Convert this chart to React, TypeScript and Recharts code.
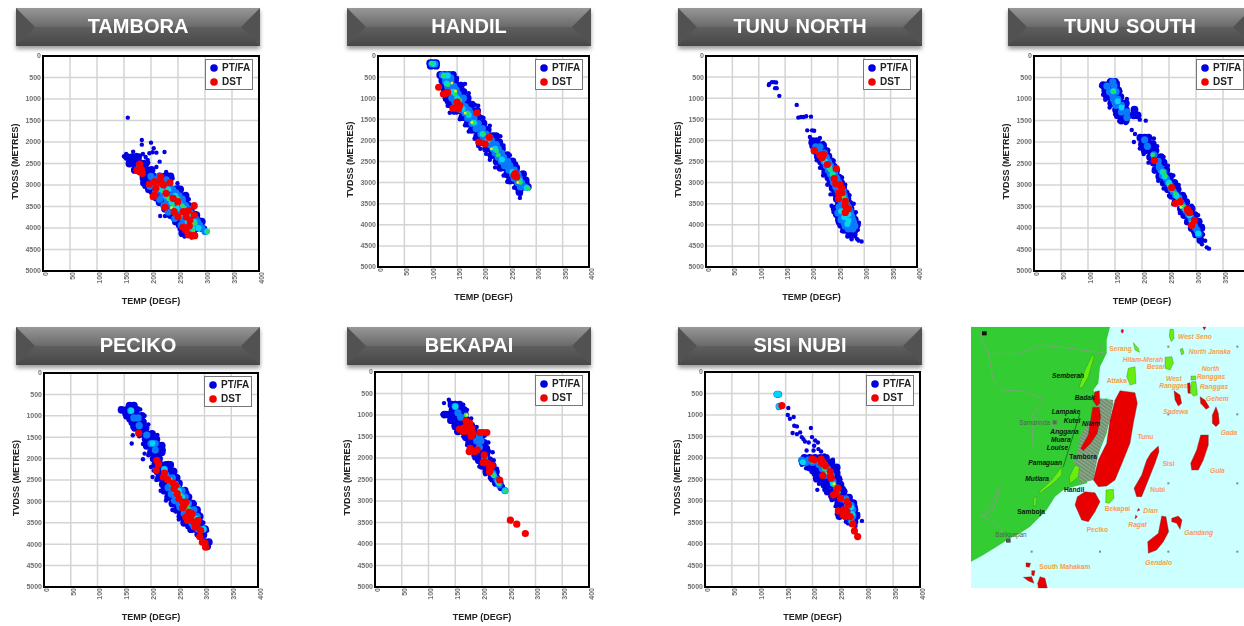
import {
  ScatterChart,
  Scatter,
  XAxis,
  YAxis,
  CartesianGrid,
  ReferenceArea,
} from "recharts";

// rows are [depth, temp, temp, ...]; pairs are [temp, depth]
type Row = number[];
type Pair = [number, number];

const tempTicks = [0, 50, 100, 150, 200, 250, 300, 350, 400];
const depthTicks = [0, 500, 1000, 1500, 2000, 2500, 3000, 3500, 4000, 4500, 5000];

const tamboraSparse: Pair[] = [[157,1434],[183,1953],[183,2062],[200,2015],[205,2147],[210,2248],[225,2232],[197,2263],[154,2279],[167,2225],[173,2302],[185,2279],[151,2341],[160,2418],[194,2418],[216,2457],[228,2698],[249,2961],[270,3333],[217,3720],[226,3720],[258,4147],[203,2240],[190,2350],[178,2400],[165,2500],[150,2330],[158,2380],[170,2570],[176,2700],[183,2860],[188,3040],[200,3180],[208,3330],[218,3450],[230,3620],[240,3780],[250,3950],[262,4200],[275,4220],[300,4000],[290,3800],[282,3650],[272,3450],[262,3250],[250,3050],[240,2850],[230,2750],[210,2580],[195,2480],[180,2320]];
const tamboraBlue: Row[] = [[2350,156,166,176],[2500,160,171,181,190],[2650,170,179,191,201],[2800,186,196,204,216,226,236],[2950,187,194,206,214,226,234],[3100,196,206,214,226,236,245,254],[3250,206,214,226,234,246,254,264],[3400,216,226,234,246,256,264],[3550,226,234,246,256,264,274],[3700,236,246,254,266,276,284],[3850,246,254,266,276,284,294],[4000,256,266,274,284,294],[4120,258,268,278]];
const tamboraAzure: Row[] = [[2600,178],[2800,200,215],[2880,208,228],[2950,205,222],[3030,198,214,232],[3100,212,228,240],[3180,208,222,246],[3250,222,238,252],[3330,216,230,258],[3400,230,245,258],[3480,224,238,264],[3550,240,255,268],[3630,232,248,262,272],[3700,252,265,276],[3780,244,258,282],[3850,262,275,286],[3930,256,268,290],[4000,270,282,294],[4080,300,268]];
const tamboraCyan: Row[] = [[3100,218,232],[3250,228,245],[3400,238,252],[3550,248,262],[3700,258,270],[3850,268,280],[4000,276,288],[4080,304]];
const tamboraGreen: Row[] = [[3150,222],[3320,232,250],[3480,240,258],[3620,262],[3750,268],[3900,275,282],[4060,278],[4080,305]];
const tamboraYellow: Row[] = [[3530,238],[3450,250],[3680,258]];
const tamboraRed: Pair[] = [[179,2512],[174,2651],[179,2690],[182,2636],[184,2729],[197,2977],[207,2922],[218,2806],[219,2946],[223,3000],[235,2946],[209,3077],[207,3233],[204,3271],[228,3194],[241,3310],[250,3388],[226,3519],[243,3620],[250,3736],[260,3620],[269,3597],[280,3481],[280,3698],[265,3736],[272,3814],[259,3984],[264,4046],[271,3953],[269,4163],[281,4178],[277,4178]];

const handilSparse: Pair[] = [[157,660],[165,660],[181,1157],[184,1157],[197,1450],[136,1346],[269,3362],[194,2197],[131,1094],[175,1130],[270,3280],[120,520],[121,640],[123,800],[127,1020],[132,1180],[143,1340],[155,1500],[165,1640],[172,1790],[183,1960],[190,2130],[205,2320],[212,2460],[222,2640],[238,2830],[245,2980],[258,3120],[283,3000],[272,2780],[262,2560],[250,2350],[238,2120],[232,1900],[212,1650],[200,1470],[190,1180],[172,880],[158,760],[150,520]];
const handilBlue: Row[] = [[170,99,104,110],[230,100,110],[450,118,126,134,142],[580,122,130,138,146],[700,125,133,141,149,157],[850,130,138,146,154,162],[1000,130,138,146,154,162,170],[1150,138,148,158,168,178],[1300,148,158,168,178,188],[1450,160,170,180,190],[1600,170,180,190,200],[1750,178,188,198,208],[1900,188,198,208,218,224],[2050,192,202,212,222,230],[2200,205,215,225,235],[2350,215,225,235,245],[2500,225,235,245,255],[2650,232,242,252,262],[2800,245,255,265,275],[2950,250,260,270,280],[3100,264,274,284],[3220,268]];
const handilAzure: Row[] = [[190,102,108],[450,122,132],[520,128,138],[600,128,138],[720,132,144],[800,135,148],[900,140,152],[1000,140,152,162],[1100,146,158],[1200,150,165],[1280,158,172],[1350,165,175],[1470,170,182],[1600,178,190],[1720,186,198],[1850,195,205],[1930,200,212],[2000,205,215],[2100,212,224],[2200,218,228],[2300,222,234],[2400,228,238],[2500,234,246],[2600,240,250],[2700,248,258],[2800,255,265],[2900,258,268],[3000,265,272],[3100,278,270]];
const handilCyan: Row[] = [[190,105],[470,125,132],[650,130],[850,142],[1000,150],[1120,152],[1250,160],[1400,172],[1580,182],[1850,198],[2000,208],[2200,222],[2450,235],[2750,255],[2950,268],[3120,282]];
const handilGreen: Row[] = [[170,101],[460,125],[680,133],[900,146],[1050,155],[1350,170],[1580,180],[1850,200],[2250,225],[2350,228],[2850,262],[3000,270],[3140,285]];
const handilYellow: Row[] = [[830,147],[640,140],[1350,165],[1570,178],[2200,215],[3000,265]];
const handilRed: Pair[] = [[115,740],[124,900],[129,885],[132,860],[150,1095],[155,1173],[142,1236],[148,1236],[153,1252],[188,1346],[211,1929],[192,2039],[203,2079],[260,2787],[263,2866],[258,2827]];

const tunuNorthSparse: Pair[] = [[120,660],[119,690],[125,620],[129,620],[133,627],[131,762],[134,762],[139,944],[172,1159],[175,1460],[180,1444],[185,1444],[190,1429],[199,1437],[192,1762],[201,1762],[205,1770],[197,1920],[216,1944],[234,2357],[286,4333],[289,4373],[295,4397],[276,4341],[238,3548],[198,2060],[204,2280],[210,2470],[216,2650],[222,2830],[230,3050],[236,3280],[240,3580],[242,3700],[250,3950],[258,4150],[268,4280],[288,4120],[290,3950],[284,3700],[280,3500],[272,3300],[264,3050],[258,2880],[250,2700],[242,2480],[232,2230],[222,2060]];
const tunuNorthBlue: Row[] = [[2020,202,210],[2120,203,212,222],[2250,208,218,228],[2380,212,222,232],[2500,218,228,238],[2620,222,232,242],[2750,226,236,246],[2880,232,242,252],[3000,236,246,256],[3130,240,250,260],[3250,245,255,265],[3380,248,258,268],[3500,252,262,272],[3620,244,254,264,274],[3750,248,258,268,278],[3880,252,262,272,282],[4000,256,266,276,286],[4120,262,272,282],[4230,272,280]];
const tunuNorthAzure: Row[] = [[2150,208,216],[2300,216,224],[2400,220,228],[2500,224,232],[2600,228,236],[2700,232,240],[2800,236,244],[2900,240,248],[3000,242,252],[3100,246,255],[3200,250,260],[3300,255,262],[3400,254,264],[3500,258,266],[3580,252,262,270],[3650,255,265,272],[3720,250,260,274],[3800,258,268,276],[3880,256,266,278],[3950,262,272,280],[4030,264,274,282],[4100,270,278]];
const tunuNorthCyan: Row[] = [[2500,226],[2650,234],[2800,240],[3000,246],[3200,255],[3400,260],[3600,264],[3680,256,268],[3750,270],[3820,262],[3900,270],[3980,268]];
const tunuNorthGreen: Row[] = [[2700,236],[2820,240],[3150,254],[3350,262],[3450,266]];
const tunuNorthYellow: Row[] = [[3300,258]];
const tunuNorthRed: Pair[] = [[205,2238],[216,2349],[223,2333],[220,2413],[230,2571],[247,2667],[243,2905],[246,3024],[254,3048],[257,3127],[251,3246],[257,3246],[251,3381],[264,3444],[264,3548],[270,3627],[264,3706]];

const tunuSouthSparse: Pair[] = [[181,1720],[187,1814],[185,2000],[207,1504],[317,4295],[320,4450],[324,4480],[311,4380],[196,1480],[170,1560],[124,690],[128,900],[132,1020],[140,1200],[150,1350],[158,1520],[196,2150],[203,2280],[212,2480],[222,2680],[230,2900],[240,3080],[250,3250],[258,3450],[270,3650],[282,3880],[295,4100],[313,4150],[312,3950],[304,3700],[292,3480],[280,3280],[268,3000],[258,2780],[248,2550],[240,2350],[228,2100],[222,1920],[172,1000],[160,820],[155,620]];
const tunuSouthBlue: Row[] = [[600,142,150],[680,128,136,146,152],[800,132,140,150,156],[950,135,143,152,160],[1100,143,152,162,170],[1250,152,160,170,186],[1380,155,165,175,185,192],[1500,162,170],[1900,197,205,212],[2050,200,210,220],[2200,205,215,225],[2350,215,225,235],[2480,222,232,240],[2650,225,235,245],[2800,232,242,252],[2950,240,250,260],[3100,248,258,266],[3250,255,265,275],[3400,262,272,282],[3550,272,282,292],[3700,278,288,298],[3850,285,295,305],[4000,292,302,310],[4150,300,308],[4280,308]];
const tunuSouthAzure: Row[] = [[600,146],[700,135,148],[830,140,152],[920,146],[1000,147,155],[1080,150],[1150,152,162],[1300,162,172],[1430,172],[1950,205],[2100,210],[2300,222],[2450,230],[2580,232],[2650,235],[2700,240],[2780,238],[2850,245],[2930,248],[3000,252],[3080,254],[3150,258],[3230,262],[3300,268],[3380,270],[3450,274],[3530,278],[3600,282],[3680,286],[3750,290],[3830,292],[3900,296],[3980,298],[4050,302],[4150,305]];
const tunuSouthCyan: Row[] = [[820,147],[1050,155],[1200,162],[2700,238],[2800,242],[2950,250],[3100,256],[3250,264],[3400,272],[3550,280],[3700,288],[3850,293],[4130,304]];
const tunuSouthGreen: Row[] = [[820,147],[2300,220],[2700,240],[2780,243],[3000,250],[3200,262],[3350,268],[3500,277]];
const tunuSouthYellow: Row[] = [[3450,268],[3520,272]];
const tunuSouthRed: Pair[] = [[223,2426],[255,3062],[262,3426],[271,3388],[284,3566],[285,3597],[288,3643],[297,3822],[292,3938]];

const pecikoSparse: Pair[] = [[166,1453],[164,1648],[185,2015],[203,2430],[188,1883],[180,850],[200,2195],[234,2180],[297,3660],[143,830],[150,960],[158,1100],[165,1260],[178,1480],[185,1660],[195,1920],[205,2280],[210,2500],[218,2750],[228,2980],[240,3200],[252,3420],[268,3600],[285,3780],[305,3680],[298,3500],[290,3280],[282,3060],[268,2800],[255,2550],[243,2300],[232,2100],[224,1800],[212,1450],[195,1200],[188,1000],[176,830]];
const pecikoBlue: Row[] = [[760,160,168],[860,145,155,165,172],[1000,155,165,175,183],[1150,165,175,185],[1280,170,180,190],[1420,182,192,202],[1550,190,200,210],[1700,192,202,212,220],[1850,200,210,220],[2000,205,215],[2150,208,218,228,236],[2300,212,222,232,242],[2450,215,225,235,248],[2600,222,232,242,252],[2750,225,235,245,255,263],[2900,232,242,252,262,270],[3050,240,250,260,270,278],[3200,248,258,268,278,286],[3350,255,265,275,285,291],[3500,262,272,282,292],[3650,275,285,295,301],[3780,290,298],[3950,300,308],[4050,305]];
const pecikoAzure: Row[] = [[880,162],[1050,168,176],[1230,178],[1450,192],[1650,200,208],[1800,208],[2250,225],[2380,228],[2450,232,240],[2600,236,246],[2680,232,250],[2750,240,250,258],[2830,238,254],[2900,246,256,264],[2980,244,258],[3050,252,262,270],[3130,254,268],[3200,262,272,280],[3280,262,276],[3350,270,280,286],[3430,272,284],[3500,276,286],[3580,280],[3650,288,298]];
const pecikoCyan: Row[] = [[880,163],[1640,203],[2250,225],[2500,235],[2600,240,246],[2750,245,252],[2900,250,258],[3050,258,268],[3200,270],[3400,285],[3650,298]];
const pecikoGreen: Row[] = [[2550,240],[2700,246],[2850,255],[3000,258],[3150,268],[3450,280]];
const pecikoYellow: Row[] = [[2950,255]];
const pecikoRed: Pair[] = [[177,1406],[211,2039],[214,2133],[210,2273],[225,2336],[223,2430],[231,2492],[241,2570],[243,2703],[249,2820],[252,2937],[259,3016],[266,3016],[259,3148],[271,3250],[265,3367],[274,3367],[268,3445],[280,3484],[288,3445],[283,3601],[293,3680],[291,3820],[296,3953],[301,3977],[302,4070],[277,3289],[286,3562],[262,3094],[246,2625]];

const bekapaiSparse: Pair[] = [[138,645],[186,2006],[220,1866],[171,1540],[129,723],[140,708],[157,723],[127,972],[243,2760],[133,950],[126,990],[150,1180],[148,1300],[165,1500],[172,1700],[184,1950],[195,2200],[206,2380],[218,2520],[238,2720],[230,2450],[228,2250],[222,2050],[214,1850],[212,1640],[205,1480],[190,1280],[180,1080],[172,880],[165,760]];
const bekapaiBlue: Row[] = [[760,143,150,158],[880,145,152,160,166],[990,130,138,148,158,168],[1120,142,152,162,172],[1250,150,160,170,180],[1380,155,165,175,185],[1520,170,180,190,198],[1650,176,186,196,204],[1780,180,190,200,208],[1920,188,198,208],[2050,194,204,214],[2180,200,210,220],[2320,208,218,226],[2450,218,226],[2580,226,233],[2680,236]];
const bekapaiAzure: Row[] = [[800,150],[950,155],[1050,160],[1600,190,198],[1500,195],[1750,195],[2000,205],[2200,215],[2350,220],[2500,228],[2620,232],[2760,243]];
const bekapaiCyan: Row[] = [[800,150],[2050,205],[2400,222],[2550,230],[2760,243]];
const bekapaiGreen: Row[] = [[1000,170],[2100,208],[2400,222],[2600,232],[2760,243]];
const bekapaiYellow: Row[] = [[1000,172]];
const bekapaiRed: Pair[] = [[166,1306],[158,1330],[170,1135],[177,1190],[180,1306],[174,1384],[183,1423],[165,1384],[180,1500],[176,1252],[170,1268],[196,1408],[202,1408],[209,1408],[191,1812],[178,1773],[176,1851],[186,1851],[204,1928],[205,2084],[202,2107],[211,2123],[214,2200],[214,2317],[233,2512],[219,2177],[253,3445],[265,3538],[281,3756]];

const sisiNubiSparse: Pair[] = [[137,838],[155,838],[154,1000],[165,1048],[158,1087],[166,1250],[171,1265],[197,1304],[163,1420],[171,1444],[177,1405],[180,1514],[183,1560],[186,1615],[193,1638],[199,1514],[205,1592],[210,1638],[203,1716],[189,1824],[202,1824],[211,1793],[216,1848],[209,2741],[232,2158],[239,2337],[292,3463],[281,3385],[280,3579],[180,2158],[227,2756],[233,2896],[248,3362],[178,2060],[180,2100],[188,2240],[198,2320],[205,2470],[212,2600],[222,2740],[236,2980],[243,3120],[245,3300],[262,3480],[272,3560],[285,3300],[280,3120],[268,2900],[258,2700],[252,2500],[243,2250],[238,2040],[222,1940]];
const sisiNubiBlue: Row[] = [[2000,185,195,205,215,225],[2100,182,192,202,212,225,235],[2220,195,205,215,225,235,245],[2350,205,215,225,235,245],[2480,208,218,228,238,248],[2620,222,232,242,252],[2780,228,238,248,258],[2920,238,248,258,268],[3050,248,258,268,276],[3200,250,260,270,278],[3350,250,262,272,282],[3480,268,278]];
const sisiNubiAzure: Row[] = [[520,134,137],[800,138],[2050,180,192],[2100,188,200],[2150,212,222],[2250,218,228],[2400,225,235],[2550,238],[2700,245],[2950,255,262],[3100,265,272],[3200,275],[3350,275],[3450,272]];
const sisiNubiCyan: Row[] = [[520,134,137],[800,138],[2100,182],[2300,228],[2600,238],[2800,245],[3000,262],[3150,272],[3300,274]];
const sisiNubiGreen: Row[] = [[784,143],[2080,200],[2250,222],[2300,232],[2500,236],[2620,240],[2800,248],[3500,272]];
const sisiNubiYellow: Row[] = [[2350,228],[2600,240],[3400,270]];
const sisiNubiRed: Pair[] = [[143,784],[203,2042],[199,2026],[216,2026],[220,2104],[224,2182],[217,2120],[219,2407],[233,2314],[235,2469],[233,2430],[247,2702],[244,2818],[252,2935],[264,3012],[267,3090],[248,3230],[258,3207],[264,3245],[261,3362],[270,3362],[257,3323],[275,3533],[278,3696],[284,3828],[239,2857]];

const fromRows = (rows: Row[]) =>
  rows.flatMap(([depth, ...temps]) => temps.map((temp) => ({ temp, depth })));
const fromPairs = (pairs: Pair[]) => pairs.map(([temp, depth]) => ({ temp, depth }));

const BLUE = "#0000e0";
const FONT = "'Liberation Sans', Arial, sans-serif";

function dot(r: number, fill: string) {
  return (p: any) => <circle cx={p.cx} cy={p.cy} r={r} fill={fill} />;
}

function Banner({ title, left, top }: { title: string; left: number; top: number }) {
  return (
    <div style={{ position: "absolute", left, top, width: 244, height: 38, filter: "drop-shadow(0 3px 2px rgba(0,0,0,0.4))" }}>
      <svg width={244} height={38} style={{ position: "absolute", left: 0, top: 0 }}>
        <defs>
          <linearGradient id="bannerTop" x1="0" y1="0" x2="0" y2="1">
            <stop offset="0" stopColor="#979797" />
            <stop offset="1" stopColor="#6a6a6a" />
          </linearGradient>
          <linearGradient id="bannerBottom" x1="0" y1="0" x2="0" y2="1">
            <stop offset="0" stopColor="#5e5e5e" />
            <stop offset="1" stopColor="#474747" />
          </linearGradient>
        </defs>
        <rect width={244} height={19} fill="url(#bannerTop)" />
        <rect y={19} width={244} height={19} fill="url(#bannerBottom)" />
        <polygon points="0,0 19,19 0,38" fill="#525252" />
        <polygon points="244,0 225,19 244,38" fill="#525252" />
      </svg>
      <div style={{ position: "absolute", inset: 0, textAlign: "center", lineHeight: "37px", color: "#fff", fontFamily: FONT, fontWeight: 700, fontSize: 20, wordSpacing: 1 }}>
        {title}
      </div>
    </div>
  );
}

function FieldChart({ field }: { field: any }) {
  const { left, right, top, bottom } = field;
  const gutter = 40;
  const foot = 46;
  const width = right - left + gutter + 6;
  const height = bottom - top + foot + 6;
  const layers: [any[], number, string][] = [
    [fromRows(field.blue), 3.9, BLUE],
    [fromPairs(field.sparse), 2.2, BLUE],
    [fromRows(field.azure), 3.6, "#0a78ff"],
    [fromRows(field.cyan), 3, "#00d6f2"],
    [fromRows(field.green), 2.4, "#22df66"],
    [fromRows(field.yellow), 1.5, "#e4f01c"],
    [fromPairs(field.red), 3.6, "#f20000"],
  ];
  return (
    <div style={{ position: "absolute", left: left - gutter, top: top - 6, width, height }}>
      <ScatterChart width={width} height={height} margin={{ top: 6, right: 6, bottom: 0, left: 0 }}>
        <CartesianGrid stroke="#d4d4d4" strokeWidth={1.5} />
        <XAxis
          type="number"
          dataKey="temp"
          domain={[0, 400]}
          ticks={tempTicks}
          height={foot}
          angle={-90}
          textAnchor="end"
          axisLine={false}
          tickLine={false}
          tickSize={0}
          interval={0}
          tickMargin={0}
          tick={{ fontSize: 7, fill: "#707070", fontFamily: FONT, fontWeight: 700, dy: 1 }}
          label={{ value: "TEMP (DEGF)", position: "insideBottom", offset: 13, fontSize: 9, fontWeight: 700, fill: "#222", fontFamily: FONT }}
        />
        <YAxis
          type="number"
          dataKey="depth"
          domain={[0, 5000]}
          ticks={depthTicks}
          reversed
          width={gutter}
          axisLine={false}
          tickLine={false}
          tickSize={0}
          interval={0}
          tickMargin={2}
          tick={{ fontSize: 7, fill: "#707070", fontFamily: FONT, fontWeight: 700 }}
          label={{ value: "TVDSS (METRES)", angle: -90, position: "insideLeft", offset: 12, fontSize: 9, fontWeight: 700, fill: "#222", fontFamily: FONT, dy: 36 }}
        />
        {layers.map(([data, r, fill], i) => (
          <Scatter key={i} data={data} isAnimationActive={false} shape={dot(r, fill)} />
        ))}
        <ReferenceArea x1={0} x2={400} y1={0} y2={5000} fill="none" stroke="#000" strokeWidth={2} ifOverflow="visible" />
      </ScatterChart>
      <div style={{ position: "absolute", left: gutter + (right - left) - 54, top: 9, width: 48, height: 31, boxSizing: "border-box", background: "#fff", border: "1px solid #777", fontFamily: FONT, fontWeight: 700, fontSize: 10, color: "#222" }}>
        <svg width={12} height={30} style={{ position: "absolute", left: 2, top: 0 }}>
          <circle cx={6} cy={8} r={3.8} fill={BLUE} />
          <circle cx={6} cy={22} r={3.8} fill="#f20000" />
        </svg>
        <div style={{ position: "absolute", left: 16, top: 2 }}>PT/FA</div>
        <div style={{ position: "absolute", left: 16, top: 16 }}>DST</div>
      </div>
    </div>
  );
}

const fields = [
  { title: "TAMBORA", bx: 16, by: 8, left: 43, right: 259, top: 56, bottom: 271, sparse: tamboraSparse, blue: tamboraBlue, azure: tamboraAzure, cyan: tamboraCyan, green: tamboraGreen, yellow: tamboraYellow, red: tamboraRed },
  { title: "HANDIL", bx: 347, by: 8, left: 378, right: 589, top: 56, bottom: 267, sparse: handilSparse, blue: handilBlue, azure: handilAzure, cyan: handilCyan, green: handilGreen, yellow: handilYellow, red: handilRed },
  { title: "TUNU NORTH", bx: 678, by: 8, left: 706, right: 917, top: 56, bottom: 267, sparse: tunuNorthSparse, blue: tunuNorthBlue, azure: tunuNorthAzure, cyan: tunuNorthCyan, green: tunuNorthGreen, yellow: tunuNorthYellow, red: tunuNorthRed },
  { title: "TUNU SOUTH", bx: 1008, by: 8, left: 1034, right: 1250, top: 56, bottom: 271, sparse: tunuSouthSparse, blue: tunuSouthBlue, azure: tunuSouthAzure, cyan: tunuSouthCyan, green: tunuSouthGreen, yellow: tunuSouthYellow, red: tunuSouthRed },
  { title: "PECIKO", bx: 16, by: 327, left: 44, right: 258, top: 373, bottom: 587, sparse: pecikoSparse, blue: pecikoBlue, azure: pecikoAzure, cyan: pecikoCyan, green: pecikoGreen, yellow: pecikoYellow, red: pecikoRed },
  { title: "BEKAPAI", bx: 347, by: 327, left: 375, right: 589, top: 372, bottom: 587, sparse: bekapaiSparse, blue: bekapaiBlue, azure: bekapaiAzure, cyan: bekapaiCyan, green: bekapaiGreen, yellow: bekapaiYellow, red: bekapaiRed },
  { title: "SISI NUBI", bx: 678, by: 327, left: 705, right: 920, top: 372, bottom: 587, sparse: sisiNubiSparse, blue: sisiNubiBlue, azure: sisiNubiAzure, cyan: sisiNubiCyan, green: sisiNubiGreen, yellow: sisiNubiYellow, red: sisiNubiRed },
];

// location map: an illustration, not chart data
const landShape = "33,20 450,20 440,60 440,100 420,140 415,190 400,210 420,240 440,235 460,250 450,290 440,340 420,390 410,420 390,460 380,490 340,500 310,510 285,530 260,570 240,590 210,620 180,640 150,655 110,680 70,705 33,725";
const deltaShape = "420,235 460,240 450,300 430,360 415,400 400,480 360,490 345,430 360,350 400,280";
const redFields = [
  "480,212 525,218 532,250 520,310 510,370 490,420 465,480 440,498 415,500 400,480 415,420 440,370 450,300 465,240",
  "375,515 405,518 420,545 405,575 385,605 365,600 345,555 352,530",
  "595,378 597,395 585,430 565,480 545,530 530,530 522,505 545,465 560,420 572,400",
  "605,588 618,590 626,635 610,665 590,690 565,700 563,665 595,640",
  "635,595 655,588 666,600 660,628 650,610 635,605",
  "722,345 745,345 745,375 730,420 715,450 695,450 692,430 710,390",
  "768,260 775,280 778,310 768,320 757,310 757,285",
  "720,230 735,240 748,262 738,268 722,250",
  "642,212 660,225 665,250 655,258 645,240",
  "405,215 418,212 420,250 410,258 398,240",
  "398,262 418,262 422,290 412,340 392,370 370,392 362,385 385,345 392,300",
  "682,190 690,188 692,220 684,220",
  "535,565 540,570 532,574",
  "527,585 532,590 525,597",
  "198,728 212,730 208,742 198,740",
  "190,772 215,770 222,790 205,783",
  "215,752 225,752 222,768 215,765",
  "240,770 255,775 262,805 235,805 233,790",
  "485,28 491,30 488,40 483,35",
  "728,20 738,20 733,30",
];
const limeFields = [
  "397,105 402,110 385,170 365,205 358,200 375,150",
  "505,145 525,140 528,190 510,195 500,170",
  "520,68 535,85 538,97 525,90",
  "630,28 640,28 642,55 634,65 628,50",
  "660,88 668,85 672,100 665,105",
  "615,112 636,110 640,130 630,150 615,145",
  "695,185 708,185 712,225 700,228 690,215",
  "693,168 707,168 707,180 693,180",
  "305,440 305,465 280,490 240,520 237,515 275,480",
  "345,435 358,440 355,470 330,492 328,470",
  "438,510 460,508 462,535 448,550 437,548",
  "222,532 230,530 227,558 220,558",
];
const rivers = [
  "60,40 85,100 130,100 180,100 240,75 330,85 440,100",
  "85,100 100,180 130,210 200,215 250,240 215,290 280,320 345,340",
  "215,290 220,380",
  "125,490 100,540 70,590 110,610 130,640",
  "60,590 100,570 120,510",
  "280,320 340,420 365,470",
];
const orangeItalic: [string, number, number][] = [
  ["West Seno", 654, 58], ["North Janaka", 686, 101], ["Hitam-Merah", 488, 126], ["Besar", 560, 148],
  ["North", 725, 153], ["Ranggas", 711, 176], ["West", 618, 182], ["Ranggas", 598, 204], ["Ranggas", 720, 208], ["Gehem", 738, 243],
  ["Sadewa", 610, 281], ["Gada", 782, 344], ["Gula", 750, 458], ["Dian", 550, 579], ["Ragat", 505, 622], ["Gandang", 673, 645], ["Gendalo", 556, 734],
];
const orangeRoman: [string, number, number][] = [
  ["Serang", 448, 92], ["Attaka", 440, 190], ["Tunu", 533, 357], ["Sisi", 608, 438], ["Nubi", 571, 517], ["Bekapai", 434, 572], ["Peciko", 380, 636], ["South Mahakam", 238, 746],
];
const darkItalic: [string, number, number][] = [
  ["Semberah", 276, 174], ["Badak", 344, 240], ["Lampake", 275, 283], ["Kutei", 311, 309], ["Nilam", 366, 317], ["Anggana", 271, 342],
  ["Muara", 273, 365], ["Louise", 260, 389], ["Pamaguan", 205, 434], ["Mutiara", 196, 484],
];
const darkRoman: [string, number, number][] = [
  ["Tambora", 328, 416], ["Handil", 312, 517], ["Samboja", 172, 583],
];
const gridMarks: [number, number][] = [[420,80],[625,80],[832,80],[625,283],[832,283],[625,490],[832,490],[420,490],[215,695],[420,695],[625,695],[832,695]];

function LocationMap() {
  return (
    <svg width={284} height={280} viewBox="0 0 852 840" style={{ position: "absolute", left: 960, top: 320 }}>
      <defs>
        <clipPath id="mapClip"><rect x={33} y={20} width={819} height={785} /></clipPath>
        <pattern id="deltaHatch" width={9} height={9} patternUnits="userSpaceOnUse" patternTransform="rotate(35)">
          <rect width={9} height={9} fill="#6f8f6f" />
          <line x1={0} y1={4} x2={9} y2={4} stroke="#c4d0c4" strokeWidth={1.5} />
        </pattern>
      </defs>
      <g clipPath="url(#mapClip)" fontFamily={FONT}>
        <rect x={33} y={20} width={819} height={785} fill="#ccffff" />
        <polygon points={landShape} fill="#33cc33" />
        <polygon points={deltaShape} fill="url(#deltaHatch)" />
        {rivers.map((pts, i) => (
          <polyline key={i} points={pts} fill="none" stroke="#8a9a8a" strokeWidth={2.5} />
        ))}
        {gridMarks.map(([x, y], i) => (
          <rect key={i} x={x - 3} y={y - 3} width={6} height={6} fill="#888" />
        ))}
        {redFields.map((pts, i) => (
          <polygon key={i} points={pts} fill="#e80000" stroke="#444" strokeWidth={1} />
        ))}
        {limeFields.map((pts, i) => (
          <polygon key={i} points={pts} fill="#66ee11" stroke="#2a6a2a" strokeWidth={1} />
        ))}
        <line x1={360} y1={280} x2={310} y2={440} stroke="#1a7a1a" strokeWidth={3} />
        <rect x={278} y={301} width={12} height={12} fill="#666" />
        <rect x={138} y={656} width={14} height={12} fill="#555" />
        <rect x={66} y={34} width={14} height={12} fill="#111" />
        {orangeItalic.map(([t, x, y], i) => (
          <text key={i} x={x} y={y} fontSize={20} fontWeight={700} fontStyle="italic" fill="#f7a04a">{t}</text>
        ))}
        {orangeRoman.map(([t, x, y], i) => (
          <text key={i} x={x} y={y} fontSize={20} fontWeight={700} fill="#f7a04a">{t}</text>
        ))}
        {darkItalic.map(([t, x, y], i) => (
          <text key={i} x={x} y={y} fontSize={20} fontWeight={700} fontStyle="italic" fill="#0a1a0a">{t}</text>
        ))}
        {darkRoman.map(([t, x, y], i) => (
          <text key={i} x={x} y={y} fontSize={20} fontWeight={700} fill="#0a1a0a">{t}</text>
        ))}
        <text x={178} y={315} fontSize={19} fill="#4a6a4a">Samarinda</text>
        <text x={106} y={650} fontSize={19} fill="#4a6a4a">Balikpapan</text>
      </g>
    </svg>
  );
}

export default function App() {
  return (
    <div style={{ position: "fixed", left: 0, top: 0, width: 1244, height: 626, overflow: "hidden", background: "#fff" }}>
      <div style={{ position: "absolute", inset: 0, width: 1260, height: 626, filter: "blur(0.45px)" }}>
        {fields.map((f) => (
          <div key={f.title}>
            <Banner title={f.title} left={f.bx} top={f.by} />
            <FieldChart field={f} />
          </div>
        ))}
        <LocationMap />
      </div>
    </div>
  );
}
